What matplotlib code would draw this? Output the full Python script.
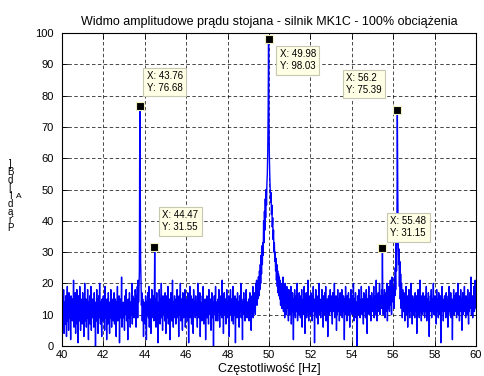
import numpy as np
import matplotlib
matplotlib.use("Agg")
from matplotlib import pyplot as plt

plt.rcParams['font.family'] = ['Liberation Sans', 'DejaVu Sans']

# widmo: 40-60 Hz, krok 0.02 Hz (1001 punktow)
f_start, f_stop, n_pts = 40.0, 60.0, 1001

amp_txt = """
12 6 15 9 18 4 11 14 7 16 10 3 13 19 8 12 5 17 11 9 14 2 16 10 13
8 15 11 21 6 12 9 17 4 14 10 18 7 13 1 16 11 8 19 12 5 15 9 13 7
17 10 14 3 12 20 8 11 15 6 13 9 18 11 2 14 10 16 7 12 19 5 13 10 15
9 12 6 17 11 14 0 13 8 18 10 15 4 12 16 9 20 11 7 14 10 3 15 12 8
16 11 13 5 19 9 12 14 2 15 10 7 17 12 11 4 14 9 18 13 6 15 10 12 8
13 17 7 11 15 10 3 14 12 19 8 13 11 16 1 12 9 15 10 22 6 13 11 14 9
12 5 16 10 13 18 8 14 11 2 15 12 9 17 13 6 14 10 12 20 7 16 11 13 9
15 10 18 13 6 16 12 19 9 21 14 18 24 76.68 55 27 20 13 17 8 15 11 3 14 10
13 7 16 11 2 14 10 17 12 9 19 6 13 11 15 4 12 18 9 14 10 16 8 13 31.55
12 15 6 11 17 9 14 1 13 10 18 12 7 15 11 20 9 13 5 16 12 10 14 8 17
11 4 13 16 9 12 19 7 14 10 15 2 12 17 11 8 13 21 10 6 14 12 16 9 13
7 15 11 18 12 9 14 3 16 10 13 20 8 12 15 11 5 17 13 9 14 12 18 6 11
15 10 13 8 17 12 1 14 11 19 9 13 16 7 12 10 15 4 18 13 11 14 9 16 12
10 13 6 20 11 15 9 12 17 3 14 10 13 8 16 11 19 12 7 14 10 15 2 13 11
16 9 12 14 7 18 11 13 10 15 5 12 17 9 14 11 0 13 16 10 12 19 8 14 11
13 8 15 11 18 12 6 14 10 16 13 9 21 11 14 4 12 17 10 13 15 7 11 18 12
9 14 11 16 3 13 10 18 12 15 8 13 11 19 7 14 12 10 16 1 13 11 15 9 17
12 10 14 6 16 11 13 20 9 15 12 2 14 11 17 10 13 8 15 12 18 11 9 14 13
11 15 8 13 17 10 14 5 12 16 11 19 9 13 15 12 17 10 20 14 21 13 18 15 22
22 16 24 18 26 20 29 23 32 26 33 29 40 33 43 37 47 41 50 45 52 55 62 75 98.03
70 60 54 50 46 49 42 45 38 41 34 37 30 33 27 30 24 28 21 26 19 24 17 23 16
22 15 21 13 20 17 12 19 14 22 11 18 15 9 20 13 16 10 19 12 17 14 8 18 13
10 16 12 19 7 14 11 17 13 2 15 10 18 12 9 14 16 11 20 8 13 15 10 17 12
14 9 16 12 18 6 13 11 15 10 19 13 4 14 12 17 9 15 11 21 13 8 16 12 10
13 17 10 14 8 16 12 19 11 15 1 13 10 18 14 9 16 12 7 15 11 20 13 10 14
9 15 12 18 11 14 6 16 13 10 17 12 19 8 14 11 15 3 13 16 10 14 12 18 11
16 10 13 7 17 12 15 11 20 9 14 12 16 5 13 10 18 11 14 15 8 13 17 12 10
12 18 9 14 11 16 13 2 15 10 19 12 14 8 16 11 13 17 10 15 6 14 12 18 11
14 10 16 12 20 8 13 15 11 17 9 14 12 0 16 13 10 18 12 15 9 14 11 19 13
10 15 12 7 17 13 11 16 9 14 18 12 4 15 11 13 19 10 14 12 16 8 13 17 11
15 11 13 19 9 14 12 16 10 21 13 8 15 12 17 11 14 20 10 13 16 12 18 14 31.15
13 10 16 12 18 9 14 11 17 13 20 8 15 12 19 14 11 16 21 13 17 10 22 15 18
14 19 12 22 16 25 18 33 24 36 75.39 50 34 26 31 19 27 15 23 12 20 16 9 18 13
11 17 14 8 15 12 19 10 13 16 6 14 11 18 12 9 15 13 20 11 14 7 16 12 10
15 12 9 17 13 11 16 4 14 10 18 12 15 9 13 21 11 14 8 16 12 10 17 13 11
13 9 16 11 14 19 8 12 15 10 17 13 3 14 11 16 12 18 9 15 13 11 20 10 14
10 16 12 14 7 18 11 13 15 9 17 12 10 14 16 1 13 11 19 12 15 8 14 11 16
12 14 9 17 11 15 13 6 16 10 19 12 14 11 17 9 13 15 2 14 12 18 10 13 16
14 11 17 9 15 12 20 10 13 16 8 14 11 18 12 15 5 13 17 10 14 12 19 11 15
9 16 12 14 10 18 13 7 15 11 17 12 14 22 10 13 16 9 15 12 19 11 14 21 13
12
"""
amp = np.array([float(v) for v in amp_txt.split()])
freq = np.linspace(f_start, f_stop, n_pts)

# znaczniki (data tips)
tip_x = [43.76, 44.47, 49.98, 55.48, 56.2]
tip_y = [76.68, 31.55, 98.03, 31.15, 75.39]
tip_off = [(7, 35), (8, 37), (11, -10), (8, 32), (-51, 37)]

fig = plt.figure(figsize=(4.84, 3.76), dpi=100)
ax = fig.add_axes([0.128, 0.080, 0.8555, 0.832])

ax.plot(freq, amp, color=(0, 0, 1), lw=1.0)

for x, y, off in zip(tip_x, tip_y, tip_off):
    ax.plot(x, y, marker='s', ms=5.5, mfc='black', mec='#f0f0c0', mew=0.8, zorder=5)
    ax.annotate(f"X: {x:g}\nY: {y:g}", xy=(x, y), xytext=off, textcoords='offset pixels',
                ha='left', va='top', fontsize=7, linespacing=1.25,
                bbox=dict(boxstyle='square,pad=0.35', fc='#ffffe6', ec='#c8c8b0', lw=0.8),
                zorder=6)

ax.set_xlim(40, 60)
ax.set_ylim(0, 100)
ax.set_xticks(np.arange(40, 61, 2))
ax.set_yticks(np.arange(0, 101, 10))
ax.grid(True, color='black', linestyle=(0, (5, 3.5)), lw=0.5)
ax.tick_params(direction='in', top=True, right=True, length=4, width=0.6,
               labelsize=8)
ax.tick_params(axis='x', pad=3)
ax.tick_params(axis='y', pad=6)
for s in ax.spines.values():
    s.set_linewidth(0.8)

ax.set_title("Widmo amplitudowe prądu stojana - silnik MK1C - 100% obciążenia",
             fontsize=9, pad=6)
ax.set_xlabel("Częstotliwość [Hz]", fontsize=9, labelpad=2)

# zepsuty (pionowy) opis osi Y jak w oryginale
fig.text(10 / 484, 1 - 196 / 376, "]\nB\nd\n[\nI\nd\ną\nr\nP", fontsize=7,
         ha='center', va='center', linespacing=0.75)
fig.text(19 / 484, 1 - 196 / 376, "A", fontsize=6, ha='center', va='center')

fig.savefig("out.png", dpi=100)
